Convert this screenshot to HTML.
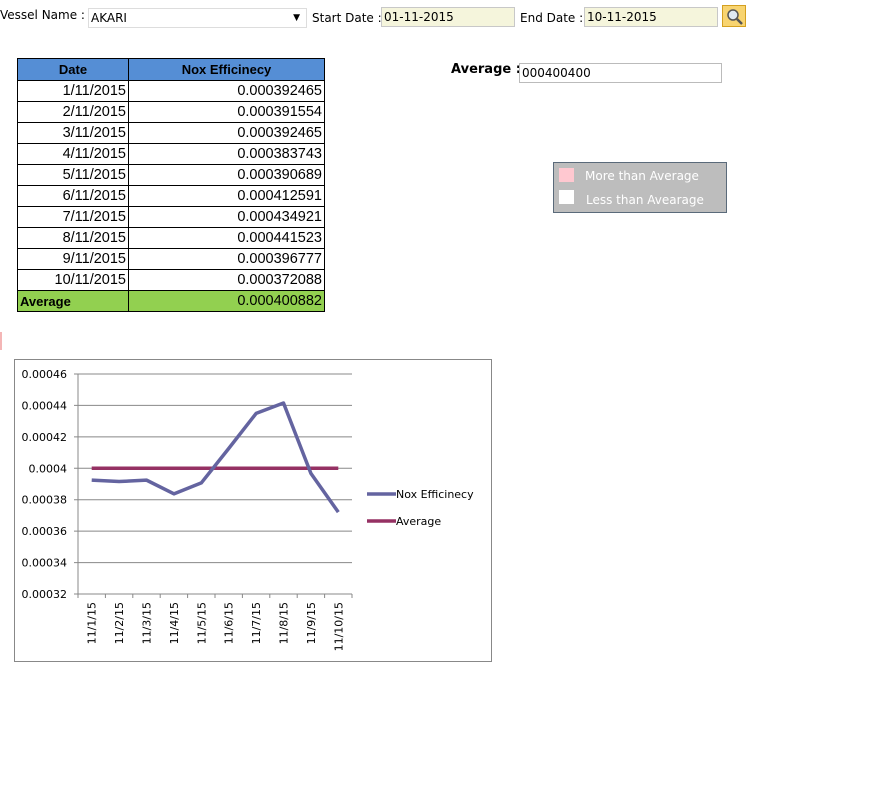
<!DOCTYPE html>
<html><head><meta charset="utf-8">
<style>
body{margin:0;width:870px;height:808px;background:#fff;font-family:"DejaVu Sans","Liberation Sans",sans-serif;position:relative;overflow:hidden}
.a{position:absolute}
.lbl{font-size:12px;color:#000}
.inp{position:absolute;border:1px solid #c8c8c8;background:#f5f5dc;font-size:12px;box-sizing:border-box;padding:2px 2px;height:20px}
table{border-collapse:collapse;font-family:"Liberation Sans",sans-serif;font-size:14.5px;table-layout:fixed}
td{border:1px solid #000;height:21px;padding:0 2px;text-align:right;box-sizing:border-box}
th{border:1px solid #000;background:#558ed5;height:22px;font-size:13px;box-sizing:border-box}
</style></head><body>
<div class="a lbl" style="left:0;top:8px">Vessel Name :</div>
<div class="inp" style="left:88px;top:8px;width:219px;background:#fff;border-color:#ddd">AKARI<span style="position:absolute;right:6px;font-size:9px;top:4px">▼</span></div>
<div class="a lbl" style="left:312px;top:11px">Start Date :</div>
<div class="inp" style="left:381px;top:7px;width:134px">01-11-2015</div>
<div class="a lbl" style="left:520px;top:11px">End Date :</div>
<div class="inp" style="left:584px;top:7px;width:134px">10-11-2015</div>
<div class="a" style="left:722px;top:5px;width:24px;height:22px;background:#f8d470;border:1px solid #d4a020;box-sizing:border-box">
<svg width="22" height="20"><circle cx="10" cy="9" r="5" fill="#dfe9f3" stroke="#555" stroke-width="1.5"/><line x1="14" y1="13" x2="19" y2="18" stroke="#555" stroke-width="2.5"/></svg></div>

<table class="a" style="left:17px;top:58px;width:308px">
<tr><th style="width:111px">Date</th><th>Nox Efficinecy</th></tr>
<tbody id="tb"></tbody>
<tr style="background:#92d050;font-weight:bold"><td style="text-align:left;font-size:13px">Average</td><td style="font-weight:normal">0.000400882</td></tr>
</table>

<div class="a" style="left:451px;top:62px;font-weight:bold;font-size:13px">Average :</div>
<div class="inp" style="left:519px;top:63px;width:203px;background:#fff;border-color:#bbb">000400400</div>

<div class="a" style="left:553px;top:162px;width:174px;height:51px;background:#bdbdbd;border:1px solid #5a6a7a;box-sizing:border-box;font-size:12px;color:#fff">
<div class="a" style="left:5px;top:5px;width:15px;height:14px;background:#ffc8d0"></div><div class="a" style="left:31px;top:6px">More than Average</div>
<div class="a" style="left:5px;top:27px;width:15px;height:14px;background:#fff"></div><div class="a" style="left:32px;top:30px">Less than Avearage</div>
</div>
<div class="a" style="left:0;top:332px;width:2px;height:18px;background:#f4b6b6"></div>

<svg class="a" style="left:0;top:0" width="870" height="808" id="ch" font-family="DejaVu Sans, sans-serif" font-size="11"></svg>
<script>
const dates=["1/11/2015","2/11/2015","3/11/2015","4/11/2015","5/11/2015","6/11/2015","7/11/2015","8/11/2015","9/11/2015","10/11/2015"];
const categories=["11/1/15","11/2/15","11/3/15","11/4/15","11/5/15","11/6/15","11/7/15","11/8/15","11/9/15","11/10/15"];
const noxValues=[0.000392465,0.000391554,0.000392465,0.000383743,0.000390689,0.000412591,0.000434921,0.000441523,0.000396777,0.000372088];
const averageValues=[0.0004,0.0004,0.0004,0.0004,0.0004,0.0004,0.0004,0.0004,0.0004,0.0004];
const yTicks=[0.00032,0.00034,0.00036,0.00038,0.0004,0.00042,0.00044,0.00046];
const tb=document.getElementById('tb');
dates.forEach((d,i)=>{const tr=document.createElement('tr');


tr.innerHTML='<td>'+d+'</td><td>'+noxValues[i].toFixed(9)+'</td>';tb.appendChild(tr);});
const NS='http://www.w3.org/2000/svg',s=document.getElementById('ch');
function el(t,a,txt){const e=document.createElementNS(NS,t);for(const k in a)e.setAttribute(k,a[k]);if(txt!=null)e.textContent=txt;s.appendChild(e);return e;}
const X0=78,X1=352,Y0=594,Y1=374,ymin=0.00032,ymax=0.00046;
const xs=i=>X0+(i+0.5)*(X1-X0)/categories.length;
const ys=v=>Y0-(v-ymin)/(ymax-ymin)*(Y0-Y1);
el('rect',{x:14.5,y:359.5,width:477,height:302,fill:'#fff',stroke:'#888'});
yTicks.forEach(t=>{const y=ys(t);
const g=el('line',{x1:74,x2:X1,y1:y,y2:y,stroke:'#888'});


const tx=el('text',{x:67,y:y+4,'text-anchor':'end'},String(t));

});
el('line',{x1:X0,x2:X0,y1:Y1,y2:Y0+4,stroke:'#888'});
categories.forEach((c,i)=>{const xt=X0+(i+1)*(X1-X0)/categories.length;el('line',{x1:xt,x2:xt,y1:Y0,y2:Y0+4,stroke:'#888'});
const x=xs(i);const tx=el('text',{x:0,y:0,transform:'translate('+(x+4)+','+(Y0+8)+') rotate(-90)','text-anchor':'end'},c);

});
const avg=el('polyline',{points:averageValues.map((v,i)=>xs(i)+','+ys(v)).join(' '),fill:'none',stroke:'#953163',"stroke-width":3.5});


const nox=el('polyline',{points:noxValues.map((v,i)=>xs(i)+','+ys(v)).join(' '),fill:'none',stroke:'#6464a0',"stroke-width":3.5,"stroke-linejoin":"round"});


el('line',{x1:367,x2:396,y1:494,y2:494,stroke:'#6464a0','stroke-width':3.5});
const l1=el('text',{x:396,y:498},'Nox Efficinecy');


el('line',{x1:367,x2:396,y1:521,y2:521,stroke:'#953163','stroke-width':3.5});
const l2=el('text',{x:396,y:525},'Average');


</script>
</body></html>
